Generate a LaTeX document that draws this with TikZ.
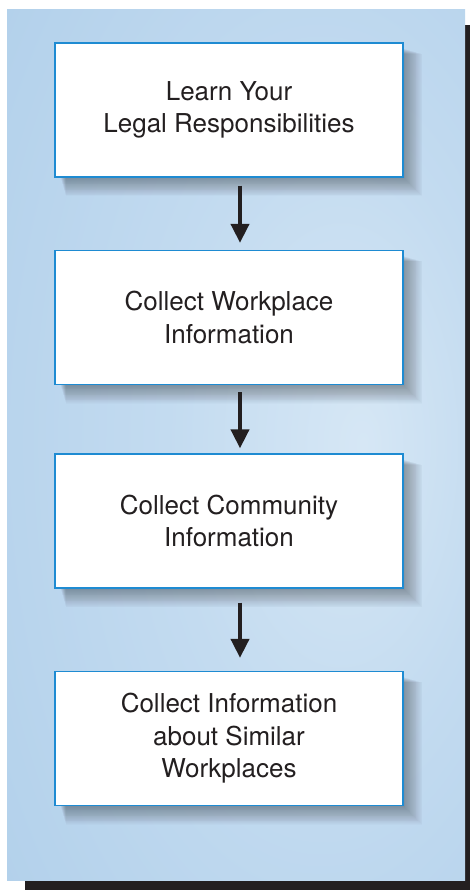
\documentclass[tikz,border=0pt]{standalone}
\usepackage{fontspec}
\setmainfont{TeX Gyre Heros}
\usetikzlibrary{arrows.meta}
\pgfdeclarelayer{shad}
\pgfsetlayers{shad,main}
\definecolor{panelout}{HTML}{B3D1EB}
\definecolor{panelmid}{HTML}{C3DBF0}
\definecolor{panelin}{HTML}{D6E7F5}
\definecolor{boxline}{HTML}{1E8BD2}
\definecolor{ink}{HTML}{231F20}
\pgfdeclareradialshading{panelshade}{\pgfpoint{14bp}{0bp}}{color(0bp)=(panelin); color(18bp)=(panelmid); color(40bp)=(panelout); color(70bp)=(panelout)}
\begin{document}
\begin{tikzpicture}[x=1pt,y=-1pt,
  stepbox/.style={draw=boxline, line width=1.3pt, fill=white, minimum width=348pt,
    minimum height=134pt, inner sep=0pt, align=center, text=ink,
    font=\fontsize{26}{32.5}\selectfont},
  flowarrow/.style={draw=ink, line width=4pt, -{Triangle[width=18pt,length=19pt]}},
  softshadow/.style={fill=black, opacity=0.016}]
\useasboundingbox (0,0) rectangle (470,890);
\begin{pgfonlayer}{shad}
  \fill[ink] (25,25) rectangle (470,890);
  \shade[shading=panelshade] (7,10) rectangle (465,880);
\end{pgfonlayer}

\node[stepbox] (b1) at (229,110)   {Learn Your\\Legal Responsibilities};
\node[stepbox] (b2) at (229,317.5) {Collect Workplace\\Information};
\node[stepbox] (b3) at (229,521)   {Collect Community\\Information};
\node[stepbox] (b4) at (229,738.5) {Collect Information\\about Similar\\Workplaces};

\begin{pgfonlayer}{shad}
  \foreach \n in {b1,b2,b3,b4}{
    \foreach \i in {1,...,22}{
      \fill[softshadow] ([shift={(6+0.25*\i,6+0.25*\i)}]\n.north west) rectangle ([shift={(0.85*\i,0.85*\i)}]\n.south east);
    }
  }
\end{pgfonlayer}

\coordinate (ax) at (240,0);
\draw[flowarrow, shorten <=8pt, shorten >=7pt] (b1.south -| ax) -- (b2.north -| ax);
\draw[flowarrow, shorten <=7pt, shorten >=5pt] (b2.south -| ax) -- (b3.north -| ax);
\draw[flowarrow, shorten <=14pt, shorten >=13pt] (b3.south -| ax) -- (b4.north -| ax);
\end{tikzpicture}
\end{document}
